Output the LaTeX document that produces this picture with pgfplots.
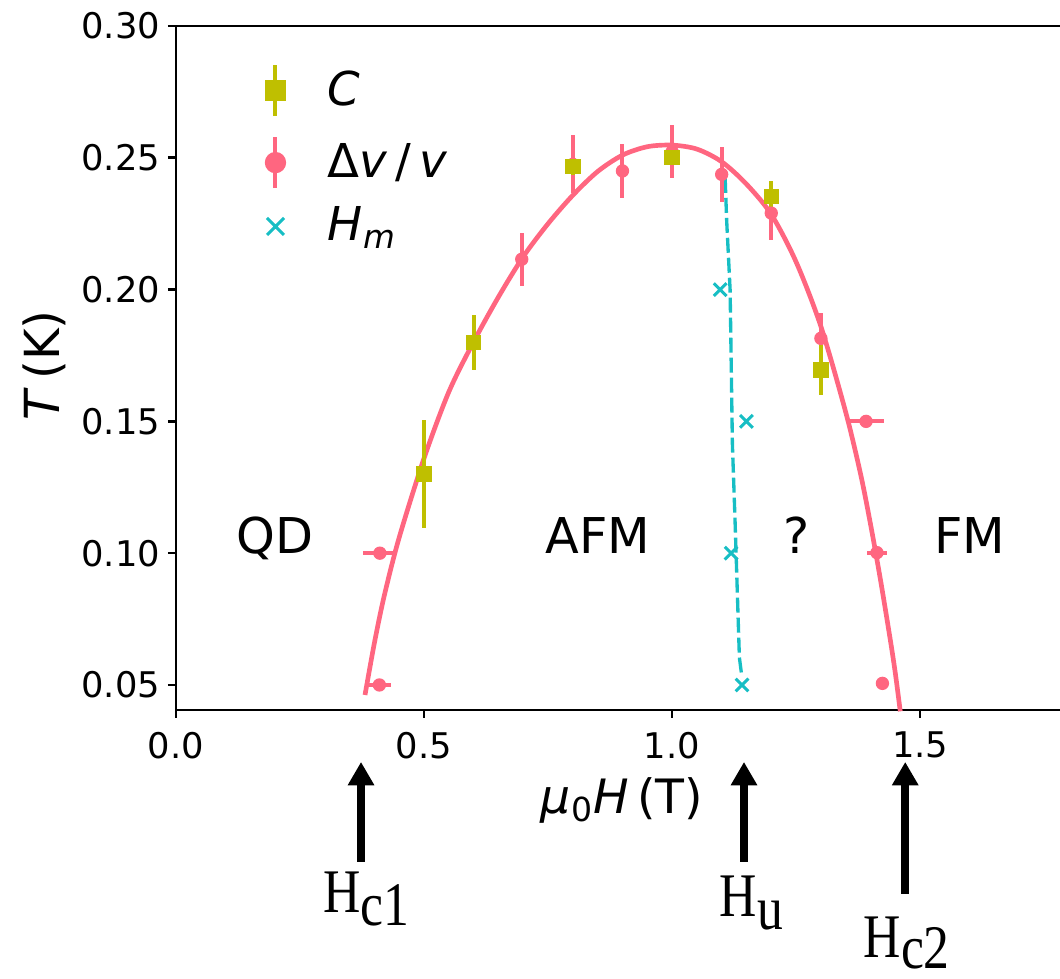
\documentclass[border=0pt]{standalone}
\usepackage{fontspec}
\setmainfont{DejaVu Sans}
\newfontfamily\serifT{Liberation Serif}
\usepackage{pgfplots}
\usepackage{pgfplotstable}
\pgfplotsset{compat=1.18}
\usetikzlibrary{arrows.meta}
\definecolor{cC}{RGB}{191,191,0}
\definecolor{cV}{RGB}{255,102,128}
\definecolor{cH}{RGB}{23,190,196}

\pgfplotstableread{
x y ey
0.5 0.130 0.0205
0.6 0.180 0.0105
0.8 0.2466 0.003
1.0 0.2502 0.003
1.2 0.2352 0.006
1.3 0.1695 0.0095
}\dataC

\pgfplotstableread{
x y ex ey
0.411 0.100 0.035 0
0.410 0.050 0.0235 0
0.697 0.2115 0 0.0101
0.800 0.2475 0 0.011
0.900 0.2450 0 0.0102
1.000 0.2523 0 0.0101
1.100 0.2437 0 0.0104
1.200 0.2290 0 0.0102
1.300 0.1815 0 0.0095
1.391 0.1500 0.037 0
1.413 0.1002 0.021 0
1.424 0.0506 0 0
}\dataV

\pgfplotstableread{
x y
1.097 0.200
1.150 0.150
1.119 0.100
1.141 0.050
}\dataH

\pgfplotstableread{
x y
0.381 0.0462
0.40 0.0660
0.42 0.0840
0.45 0.1060
0.50 0.1360
0.55 0.1612
0.60 0.1802
0.65 0.1972
0.70 0.2125
0.75 0.2250
0.80 0.2358
0.85 0.2448
0.90 0.2510
0.95 0.2542
1.00 0.2548
1.05 0.2533
1.10 0.2485
1.15 0.2400
1.20 0.2285
1.25 0.2105
1.30 0.1860
1.35 0.1535
1.38 0.1300
1.40 0.1110
1.42 0.0900
1.44 0.0670
1.45 0.0545
1.46 0.0400
}\dataFit

\pgfplotstableread{
x y
1.107 0.2424
1.110 0.2264
1.117 0.1999
1.1216 0.1414
1.127 0.1120
1.1357 0.0604
1.1405 0.0534
}\dataHfit

\begin{document}
\begin{tikzpicture}
\begin{axis}[
  scale only axis, width=265.2pt, height=205.2pt,
  xmin=0, xmax=1.782, ymin=0.0405, ymax=0.30,
  axis x line*=box, axis y line*=left,
  axis line style={-, line width=0.8pt},
  xtick={0,0.5,1.0,1.5}, ytick={0.05,0.10,0.15,0.20,0.25,0.30},
  xtick pos=left, ytick pos=left,
  tick align=outside, major tick length=2.4pt,
  every tick/.style={black, line width=0.8pt},
  minor tick num=0,
  scaled y ticks=false, scaled x ticks=false,
  xticklabel={\pgfmathprintnumber[fixed,fixed zerofill,precision=1,assume math mode=true]{\tick}},
  yticklabel={\pgfmathprintnumber[fixed,fixed zerofill,precision=2,assume math mode=true]{\tick}},
  ticklabel style={font=\fontsize{10.6}{12}\selectfont, inner sep=0pt},
  xticklabel style={anchor=north, yshift=-4pt},
  yticklabel style={anchor=east, xshift=-2.2pt},
  xlabel={\textit{μ}\textsubscript{0}\textit{H}\,(T)},
  xlabel style={at={(axis description cs:0.5045,-0.1316)}, anchor=center, font=\fontsize{14.2}{16}\selectfont},
  ylabel={\textit{T}\,(K)},
  ylabel style={at={(axis description cs:-0.1493,0.504)}, anchor=center, font=\fontsize{14.5}{16}\selectfont},
  clip=false,
  legend cell align=left,
  legend style={at={(axis description cs:0.095,0.947)}, anchor=north west, draw=none, fill=none, inner sep=0pt,
    font=\fontsize{14}{16}\selectfont, row sep=5pt, nodes={inner sep=0pt},
    /tikz/every odd column/.append style={column sep=11.3pt}},
]
% legend images
\addlegendimage{cC, only marks, mark=square*, mark size=3pt,
  legend image code/.code={\path (-4pt,0pt) (4pt,0pt); \draw[line width=1.2pt] (0pt,-7.7pt) -- (0pt,7.7pt); \draw plot coordinates {(0pt,0pt)};}}
\addlegendentry{\textit{C}}
\addlegendimage{cV, only marks, mark=*, mark size=3pt,
  legend image code/.code={\path (-4pt,0pt) (4pt,0pt); \draw[line width=1.2pt] (0pt,-7.7pt) -- (0pt,7.7pt); \draw plot coordinates {(0pt,0pt)};}}
\addlegendentry{Δ\textit{v}\,/\,\textit{v}}
\addlegendimage{cH, only marks, mark=x, mark size=3.6pt, line width=0.9pt,
  legend image code/.code={\path (-4pt,0pt) (4pt,0pt); \draw plot coordinates {(0pt,0pt)};}}
\addlegendentry{\textit{H}\textsubscript{\textit{m}}}

% fit curves
\addplot[forget plot, cV, line width=1.4pt, smooth, no marks] table {\dataFit};
\addplot[forget plot, cH, line width=1pt, dash pattern=on 4.5pt off 1.5pt, no marks] table {\dataHfit};

% data
\addplot[forget plot, cV, only marks, mark=*, mark size=1.8pt,
  error bars/.cd, x dir=both, x explicit, y dir=both, y explicit,
  error bar style={line width=1.2pt, cV}, error mark=none]
  table[x=x, y=y, x error=ex, y error=ey] {\dataV};
\addplot[forget plot, cC, only marks, mark=square*, mark size=2.1pt,
  error bars/.cd, y dir=both, y explicit,
  error bar style={line width=1.2pt, cC}, error mark=none]
  table[x=x, y=y, y error=ey] {\dataC};
\addplot[forget plot, cH, only marks, mark=x, mark size=2.7pt, line width=0.9pt] table {\dataH};

% region labels
\node[anchor=base, font=\fontsize{14.8}{16}\selectfont, inner sep=0pt] at (axis cs:0.2,0.1) {QD};
\node[anchor=base, font=\fontsize{14.8}{16}\selectfont, inner sep=0pt] at (axis cs:0.85,0.1) {AFM};
\node[anchor=base, font=\fontsize{14.8}{16}\selectfont, inner sep=0pt] at (axis cs:1.25,0.1) {?};
\node[anchor=base, font=\fontsize{14.8}{16}\selectfont, inner sep=0pt] at (axis cs:1.6,0.1) {FM};

% arrows
\draw[line width=2.4pt, -{Triangle[length=7pt,width=7.5pt]}] (axis cs:0.373,-0.0171) -- (axis cs:0.373,0.0208);
\draw[line width=2.4pt, -{Triangle[length=7pt,width=7.5pt]}] (axis cs:1.145,-0.0171) -- (axis cs:1.145,0.0208);
\draw[line width=2.4pt, -{Triangle[length=7pt,width=7.5pt]}] (axis cs:1.470,-0.0293) -- (axis cs:1.470,0.0208);
\node[anchor=base west, inner sep=0pt] at (axis cs:0.296,-0.0365) {\serifT\fontsize{15.5}{17}\selectfont\scalebox{1}[1.2]{H\raisebox{-0.2em}{c1}}};
\node[anchor=base west, inner sep=0pt] at (axis cs:1.095,-0.038) {\serifT\fontsize{15.5}{17}\selectfont\scalebox{1}[1.2]{H\raisebox{-0.2em}{u}}};
\node[anchor=base west, inner sep=0pt] at (axis cs:1.385,-0.0535) {\serifT\fontsize{15.5}{17}\selectfont\scalebox{1}[1.2]{H\raisebox{-0.17em}{c2}}};
\end{axis}
\pgfresetboundingbox
\path[use as bounding box] (current axis.south west) ++(-52.8pt,-80.7pt) rectangle ++(318pt,293.7pt);
\end{tikzpicture}
\end{document}
